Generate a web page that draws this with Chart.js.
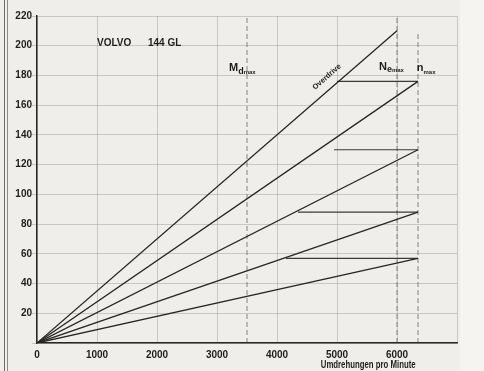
<!DOCTYPE html>
<html>
<head>
<meta charset="utf-8">
<script src="https://cdn.jsdelivr.net/npm/chart.js@4.4.1/dist/chart.umd.min.js"></script>
<style>
html,body{margin:0;padding:0;background:#efeeea;}
#wrap{position:relative;width:484px;height:371px;overflow:hidden;background:#efeeea;}
#rside{position:absolute;left:460px;top:0;width:24px;height:371px;background:#f5f4f1;}
#frame{position:absolute;left:4px;top:0;width:4px;height:371px;border-left:1px solid #6a6a66;border-right:1px solid #8a8a86;box-sizing:border-box;}
canvas{position:absolute;left:0;top:0;}
</style>
</head>
<body>
<div id="wrap">
<div id="rside"></div>
<div id="frame"></div>
<canvas id="c" width="484" height="371"></canvas>
</div>
<script>
// Data
const rpmTicks = [0, 1000, 2000, 3000, 4000, 5000, 6000, 7000];
const speedTicks = [0, 20, 40, 60, 80, 100, 120, 140, 160, 180, 200, 220];
const gearNames = ['Overdrive', '4. Gang', '3. Gang', '2. Gang', '1. Gang'];
const gearEndRpm = [6000, 6350, 6350, 6350, 6350];
const gearEndSpeed = [210, 176, 130, 88, 57];
// shift lines (horizontal): start rpm, end rpm, speed
const shiftStartRpm = [5000, 4950, 4350, 4150];
const shiftEndRpm = [6350, 6350, 6350, 6350];
const shiftSpeed = [176, 130, 88, 57];
// marker verticals: Md max, Ne max, n max
const markerRpm = [3500, 6000, 6350];
const markerTop = [220, 220, 208];

const lineColor = '#262624';
const datasets = [];
gearNames.forEach((n, i) => {
  datasets.push({label: n, data: [{x: 0, y: 0}, {x: gearEndRpm[i], y: gearEndSpeed[i]}],
    borderColor: lineColor, borderWidth: 1.3, pointRadius: 0, tension: 0});
});
shiftSpeed.forEach((s, i) => {
  datasets.push({label: 'shift' + i, data: [{x: shiftStartRpm[i], y: s}, {x: shiftEndRpm[i], y: s}],
    borderColor: '#3a3a38', borderWidth: 1.2, pointRadius: 0});
});
markerRpm.forEach((r, i) => {
  datasets.push({label: 'mark' + i, data: [{x: r, y: 0}, {x: r, y: markerTop[i]}],
    borderColor: 'rgba(60,60,58,0.6)', borderWidth: 1, borderDash: [5, 3], pointRadius: 0});
});

const FONT = '"Liberation Sans", Arial, sans-serif';

const textPlugin = {
  id: 'texts',
  afterDraw(chart) {
    const {ctx, scales: {x, y}} = chart;
    ctx.save();
    ctx.fillStyle = '#1e1e1c';
    ctx.textBaseline = 'middle';
    ctx.font = 'bold 10px ' + FONT;
    ctx.fillText('VOLVO', x.getPixelForValue(1000), y.getPixelForValue(202));
    ctx.fillText('144 GL', x.getPixelForValue(1850), y.getPixelForValue(202));
    function sub(big, s1, s2, rpm, v) {
      let px = x.getPixelForValue(rpm), py = y.getPixelForValue(v);
      ctx.font = 'bold 11px ' + FONT;
      ctx.fillText(big, px, py);
      px += ctx.measureText(big).width;
      ctx.font = 'bold 9px ' + FONT;
      ctx.fillText(s1, px, py + 3);
      px += ctx.measureText(s1).width;
      ctx.font = 'bold 6px ' + FONT;
      ctx.fillText(s2, px, py + 4);
    }
    sub('M', 'd', 'max', 3200, 185);
    sub('N', 'e', 'max', 5700, 186);
    sub('n', '', 'max', 6330, 185);
    // Overdrive label along the line
    ctx.save();
    ctx.translate(x.getPixelForValue(4830), y.getPixelForValue(179));
    ctx.rotate(-Math.atan2(y.getPixelForValue(0) - y.getPixelForValue(210), x.getPixelForValue(6000) - x.getPixelForValue(0)));
    ctx.font = 'bold 7.5px ' + FONT;
    ctx.textAlign = 'center';
    ctx.fillText('Overdrive', 0, 0);
    ctx.restore();
    // axis caption, condensed
    ctx.save();
    ctx.translate(x.getPixelForValue(5520), 365);
    ctx.scale(0.78, 1);
    ctx.font = 'bold 10px ' + FONT;
    ctx.textAlign = 'center';
    ctx.fillText('Umdrehungen pro Minute', 0, 0);
    ctx.restore();
    ctx.restore();
  }
};

new Chart(document.getElementById('c'), {
  type: 'line',
  data: {datasets},
  options: {
    responsive: false, animation: false, devicePixelRatio: 1,
    layout: {padding: {top: 16, right: 27, left: 0, bottom: 0}},
    plugins: {legend: {display: false}, tooltip: {enabled: false}},
    scales: {
      x: {
        type: 'linear', min: 0, max: 7000,
        afterBuildTicks: s => { s.ticks = rpmTicks.map(v => ({value: v})); },
        afterFit: s => { s.height = 28; },
        grid: {color: 'rgba(110,110,105,0.3)', lineWidth: 1, drawTicks: false},
        border: {color: '#262624', width: 1.5},
        ticks: {padding: 6, color: '#1e1e1c', font: {family: FONT, size: 10, weight: 'bold'},
          callback: v => v === 7000 ? '' : String(v)}
      },
      y: {
        type: 'linear', min: 0, max: 220,
        afterBuildTicks: s => { s.ticks = speedTicks.map(v => ({value: v})); },
        afterFit: s => { s.width = 37; },
        grid: {color: 'rgba(110,110,105,0.3)', lineWidth: 1, tickLength: 5},
        border: {color: '#262624', width: 1.5},
        ticks: {padding: 0, color: '#1e1e1c', font: {family: FONT, size: 10, weight: 'bold'},
          callback: v => v === 0 ? '' : String(v)}
      }
    }
  },
  plugins: [textPlugin]
});
</script>
</body>
</html>
